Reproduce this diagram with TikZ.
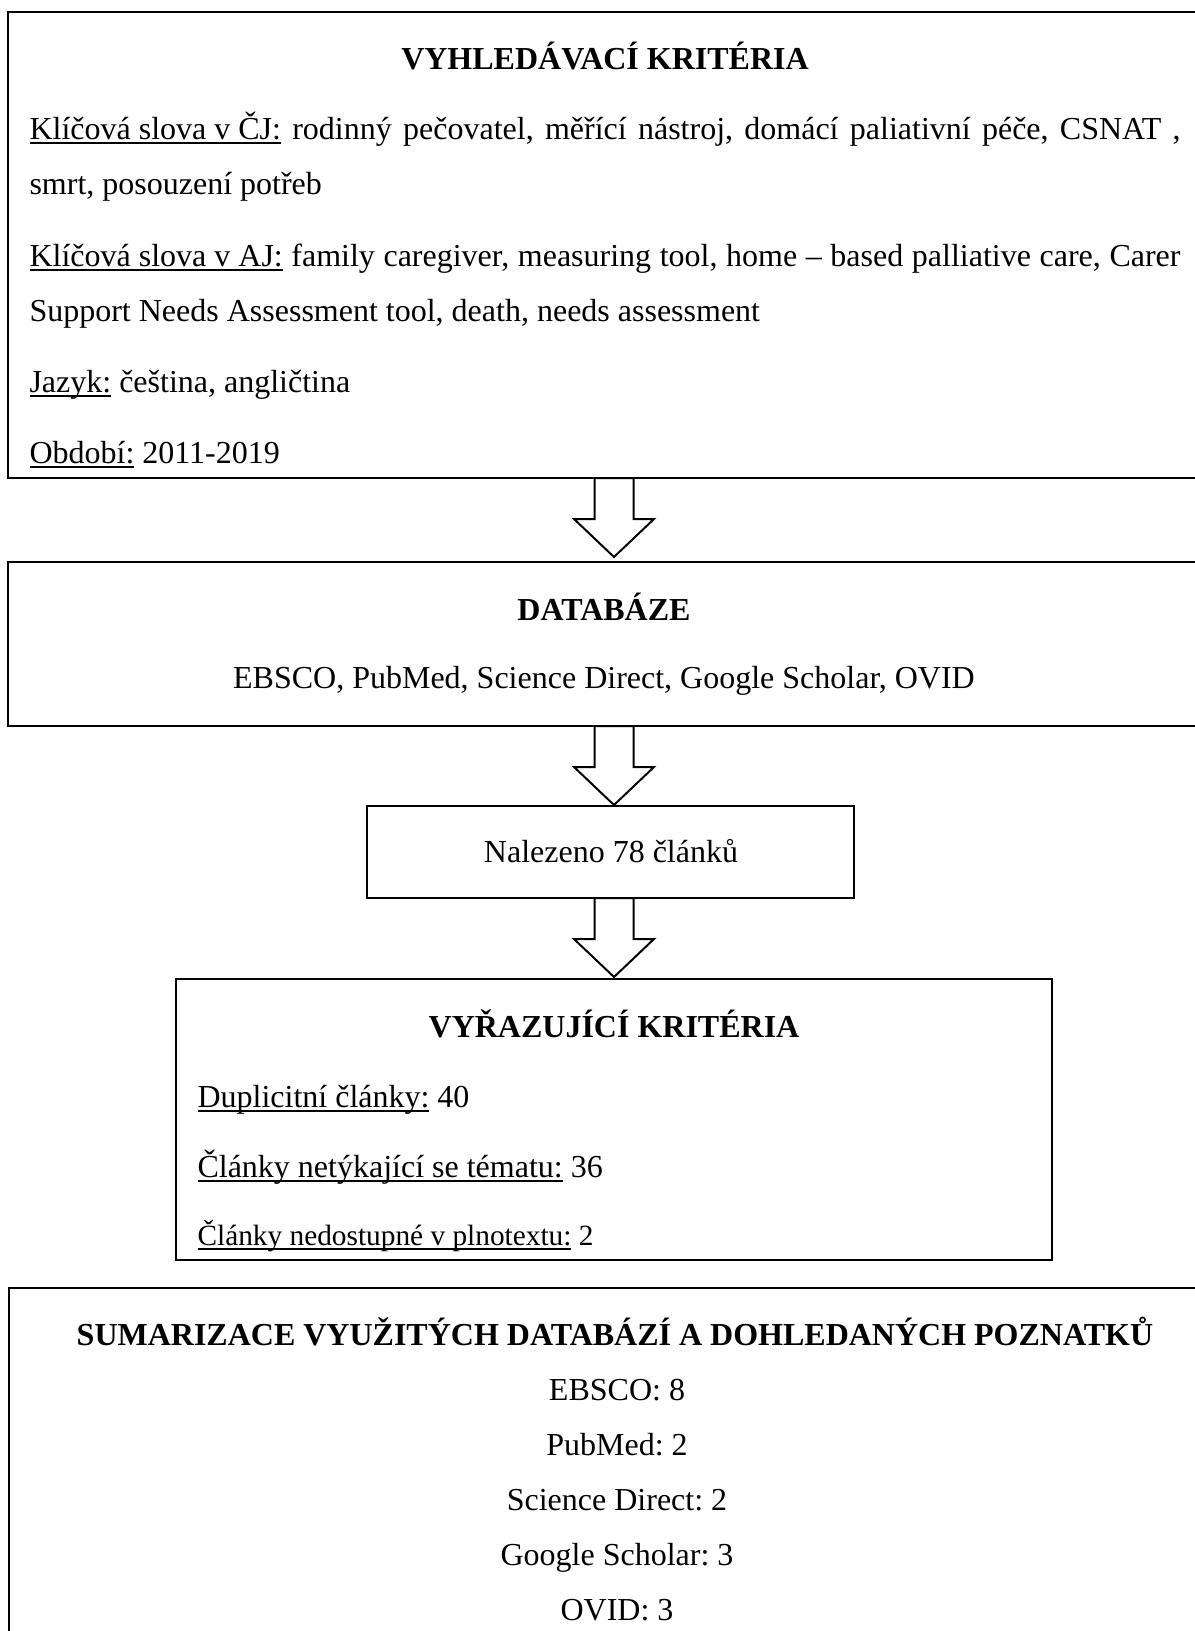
\documentclass[tikz,border=0pt]{standalone}
\usepackage{fontspec}
\setmainfont{Liberation Serif}
\usepackage{tikz}
\frenchspacing
\newsavebox{\podbox}
\newcommand{\podtrh}[1]{\sbox{\podbox}{#1}\rlap{\rule[-2pt]{\wd\podbox}{0.7pt}}\usebox{\podbox}}
\newcommand{\jline}[1]{\makebox[431.6pt][s]{#1}}

\begin{document}
\begin{tikzpicture}[x=0.375pt, y=-0.375pt,
    every node/.style={inner sep=0pt, font=\fontsize{12}{14}\selectfont},
    box/.style={draw, line width=0.8pt},
    blockarrow/.style={draw, line width=0.75pt, line join=miter},
    head/.style={anchor=base, font=\fontsize{12}{14}\selectfont\bfseries},
    line/.style={anchor=base west},
    mid/.style={anchor=base}]

    \clip (0,0) rectangle (1195,1631);

    % vyhledavaci kriteria
    \coordinate (kA) at (8,12);
    \coordinate (kB) at (1215,478);
    % databaze
    \coordinate (dA) at (8,562);
    \coordinate (dB) at (1215,726);
    % nalezeno
    \coordinate (nA) at (367,806);
    \coordinate (nB) at (854,898);
    % vyrazujici kriteria
    \coordinate (vA) at (176,979);
    \coordinate (vB) at (1052,1260);
    % sumarizace
    \coordinate (sA) at (9,1288);
    \coordinate (sB) at (1215,1650);

    % arrows: top of shaft, tip
    \coordinate (a1) at (614,478);
    \coordinate (t1) at (614,557);
    \coordinate (a2) at (614,726);
    \coordinate (t2) at (614,805);
    \coordinate (a3) at (614,898);
    \coordinate (t3) at (614,977);

    \draw [box] (kA) rectangle (kB);
    \draw [box] (dA) rectangle (dB);
    \draw [box] (nA) rectangle (nB);
    \draw [box] (vA) rectangle (vB);
    \draw [box] (sA) rectangle (sB);

    \draw [blockarrow] (a1) ++(-19.5,0) -- ++(39,0) -- ++(0,41) -- ++(20.5,0) -- (t1)
        -- ++(-40,-38) -- ++(20.5,0) -- cycle;
    \draw [blockarrow] (a2) ++(-19.5,0) -- ++(39,0) -- ++(0,41) -- ++(20.5,0) -- (t2)
        -- ++(-40,-38) -- ++(20.5,0) -- cycle;
    \draw [blockarrow] (a3) ++(-19.5,0) -- ++(39,0) -- ++(0,41) -- ++(20.5,0) -- (t3)
        -- ++(-40,-38) -- ++(20.5,0) -- cycle;

    \draw (605,69) node (kHead) [head] {VYHLEDÁVACÍ KRITÉRIA};
    \draw (29,139) node (kCJa) [line] {\jline{\podtrh{Klíčová slova v ČJ:} rodinný pečovatel, měřící nástroj, domácí paliativní péče, CSNAT ,}};
    \draw (29,194) node (kCJb) [line] {smrt, posouzení potřeb};
    \draw (29,266) node (kAJa) [line] {\jline{\podtrh{Klíčová slova v AJ:} family caregiver, measuring tool, home – based palliative care, Carer}};
    \draw (29,321) node (kAJb) [line] {Support Needs Assessment tool, death, needs assessment};
    \draw (29,392) node (kJaz) [line] {\podtrh{Jazyk:} čeština, angličtina};
    \draw (29,463) node (kObd) [line] {\podtrh{Období:} 2011-2019};

    \draw (604,620) node (dHead) [head] {DATABÁZE};
    \draw (604,688) node (dList) [mid] {EBSCO, PubMed, Science Direct, Google Scholar, OVID};

    \draw (611,862) node (nText) [mid] {Nalezeno 78 článků};

    \draw (614,1037) node (vHead) [head] {VYŘAZUJÍCÍ KRITÉRIA};
    \draw (197,1107) node (vDup) [line] {\podtrh{Duplicitní články:} 40};
    \draw (197,1177) node (vTem) [line] {\podtrh{Články netýkající se tématu:} 36};
    \draw (197,1245) node (vPln) [line, font=\fontsize{11}{13}\selectfont] {\podtrh{Články nedostupné v plnotextu:} 2};

    \draw (615,1345) node (sHead) [head] {SUMARIZACE VYUŽITÝCH DATABÁZÍ A DOHLEDANÝCH POZNATKŮ};
    \draw (617,1400) node (sEbs) [mid] {EBSCO: 8};
    \draw (617,1455) node (sPub) [mid] {PubMed: 2};
    \draw (617,1510) node (sSci) [mid] {Science Direct: 2};
    \draw (617,1565) node (sGoo) [mid] {Google Scholar: 3};
    \draw (617,1620) node (sOvi) [mid] {OVID: 3};
\end{tikzpicture}
\end{document}
